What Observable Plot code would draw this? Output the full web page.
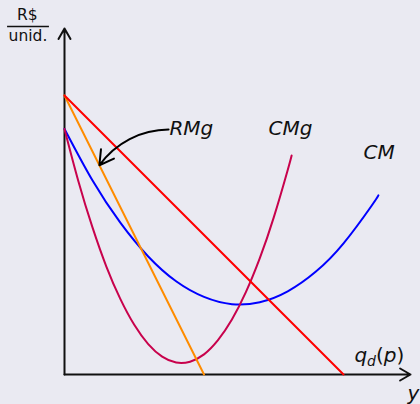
<!DOCTYPE html>
<html>
<head>
<meta charset="utf-8">
<script src="https://cdn.jsdelivr.net/npm/d3@7"></script>
<script src="https://cdn.jsdelivr.net/npm/@observablehq/plot@0.6"></script>
<style>
  html, body { margin: 0; padding: 0; background: #eaeaf2; }
  #chart { width: 420px; height: 404px; }
</style>
</head>
<body>
<div id="chart"></div>
<script>
// ---- data (quantity q, price / cost per unit) ----
const demandQ = [0, 10];
const demandP = [10, 0];

const rmgQ = [0, 5];
const rmgP = [10, 0];

const cmQ = [0, 1, 2, 3, 4, 5, 6, 7, 8, 9, 10, 11, 11.25];
const cmP = [8.80, 6.96, 5.44, 4.23, 3.34, 2.78, 2.52, 2.59, 2.98, 3.68, 4.70, 6.04, 6.42];

const cmgQ = [0, 0.5, 1, 1.5, 2, 2.5, 3, 3.5, 4, 4.5, 5, 5.5, 6, 6.5, 7, 7.5, 8, 8.14];
const cmgP = [8.80, 6.92, 5.28, 3.87, 2.71, 1.78, 1.09, 0.64, 0.43, 0.46, 0.72, 1.23, 1.97, 2.95, 4.17, 5.63, 7.33, 7.85];

const axisMax = 12.4;
const curveLabels = ["RMg", "CMg", "CM"];

const toRows = (xs, ys) => xs.map((x, i) => ({x, y: ys[i]}));

const font = "DejaVu Sans";

const chart = Plot.plot({
  width: 420,
  height: 404,
  margin: 0,
  x: {domain: [0, axisMax], range: [64, 410], axis: null},
  y: {domain: [0, axisMax], range: [374, 28], axis: null},
  style: {background: "#eaeaf2", fontFamily: font, overflow: "visible"},
  marks: [
    // axes with arrow heads
    Plot.arrow([{x1: 0, y1: 0, x2: axisMax, y2: 0}, {x1: 0, y1: 0, x2: 0, y2: axisMax}], {
      x1: "x1", y1: "y1", x2: "x2", y2: "y2",
      stroke: "#111", strokeWidth: 2, headLength: 9, headAngle: 60
    }),
    // curves
    Plot.line(toRows(cmQ, cmP), {x: "x", y: "y", stroke: "#0000ff", strokeWidth: 2, curve: "natural"}),
    Plot.line(toRows(cmgQ, cmgP), {x: "x", y: "y", stroke: "#c8024c", strokeWidth: 2, curve: "natural"}),
    Plot.line(toRows(rmgQ, rmgP), {x: "x", y: "y", stroke: "#ff8c00", strokeWidth: 2}),
    Plot.line(toRows(demandQ, demandP), {x: "x", y: "y", stroke: "#ff0000", strokeWidth: 2}),
    // annotation arrow from RMg label to the RMg line
    Plot.arrow([{x1: 3.73, y1: 8.78, x2: 1.25, y2: 7.5}], {
      x1: "x1", y1: "y1", x2: "x2", y2: "y2",
      bend: -27, stroke: "#000", strokeWidth: 2, headLength: 12, headAngle: 60
    }),
    // curve labels
    Plot.text([curveLabels[0]], {x: 3.76, y: 8.83, text: d => d, textAnchor: "start", lineAnchor: "middle", fontSize: 20, fontStyle: "italic", fill: "#111"}),
    Plot.text([curveLabels[1]], {x: 7.31, y: 8.83, text: d => d, textAnchor: "start", lineAnchor: "middle", fontSize: 20, fontStyle: "italic", fill: "#111"}),
    Plot.text([curveLabels[2]], {x: 10.72, y: 7.97, text: d => d, textAnchor: "start", lineAnchor: "middle", fontSize: 20, fontStyle: "italic", fill: "#111"}),
    // demand label q_d(p)
    Plot.text(["qd(p)"], {x: 10.39, y: 0.66, text: d => d, textAnchor: "start", lineAnchor: "middle", fontSize: 20, fill: "#111", className: "qdlabel"}),
    // x axis label
    Plot.text(["y"], {x: 12.29, y: -0.67, text: d => d, textAnchor: "start", lineAnchor: "middle", fontSize: 20, fontStyle: "italic", fill: "#111"}),
    // y axis unit label as fraction R$ / unid.
    Plot.text(["R$"], {x: -1.33, y: 12.88, text: d => d, textAnchor: "middle", lineAnchor: "middle", fontSize: 15.5, fill: "#111"}),
    Plot.ruleY([12.47], {x1: -2.04, x2: -0.54, stroke: "#111", strokeWidth: 1.5}),
    Plot.text(["unid."], {x: -1.31, y: 12.14, text: d => d, textAnchor: "middle", lineAnchor: "middle", fontSize: 15.5, fill: "#111"})
  ]
});

document.getElementById("chart").appendChild(chart);

// rebuild q_d(p) as real text with a subscript
d3.select(chart).selectAll(".qdlabel text").each(function () {
  const t = d3.select(this);
  t.text(null);
  t.append("tspan").attr("font-style", "italic").text("q");
  t.append("tspan").attr("font-style", "italic").attr("font-size", "14").attr("dy", "4").text("d");
  t.append("tspan").attr("dy", "-4").text("(");
  t.append("tspan").attr("font-style", "italic").text("p");
  t.append("tspan").text(")");
});
</script>
</body>
</html>
